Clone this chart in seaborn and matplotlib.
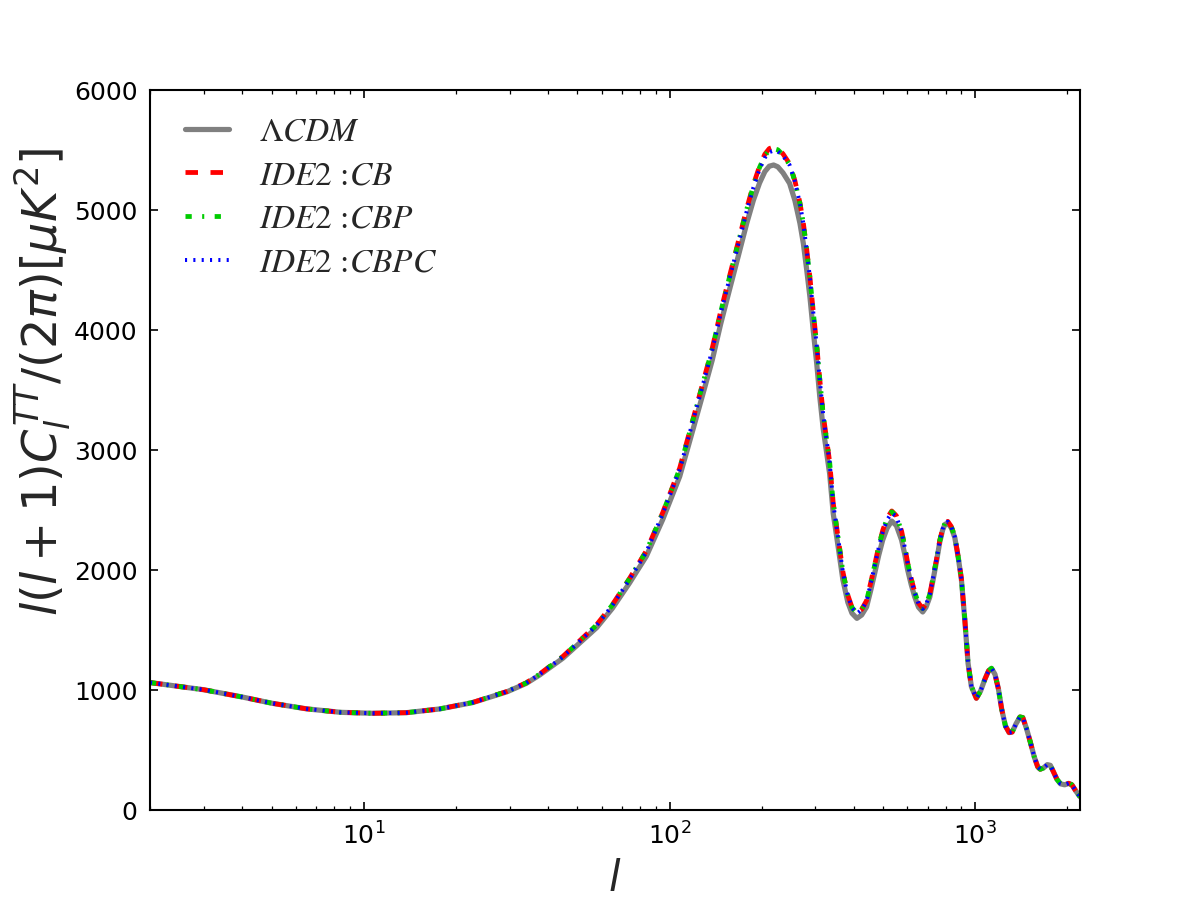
import matplotlib
matplotlib.use("Agg")
import matplotlib.pyplot as plt
from matplotlib.font_manager import FontProperties
import seaborn as sns

# multipoles and D_l = l(l+1)C_l/(2pi)
ell = [2, 3, 4, 5, 6.5, 8.4, 10.7, 13.8, 17.7, 22.7, 29.4, 34, 37.6, 44.8, 50, 57.8,
       65, 74, 84, 95, 108, 119, 130, 138, 147, 157, 168, 179, 188, 197, 205, 212,
       219, 226, 235, 247, 257, 267, 274, 281, 288, 295, 303, 310, 318, 334, 343, 356,
       369, 383, 395, 410, 425, 441, 455, 469, 483, 498, 515, 533, 552, 574, 588, 601,
       617, 634, 652, 673, 690, 710, 728, 748, 765, 782, 796, 813, 835, 857, 880, 901,
       924, 947, 971, 1008, 1040, 1075, 1105, 1130, 1160, 1190, 1220, 1255, 1290, 1320,
       1360, 1400, 1430, 1470, 1510, 1560, 1600, 1630, 1670, 1720, 1760, 1800, 1850,
       1900, 1960, 2020, 2070, 2130, 2200]

dl_lcdm = [1062, 1002, 942, 890, 843, 814, 806, 811, 842, 895, 985, 1055, 1125, 1265, 1375, 1520,
           1680, 1892, 2115, 2420, 2780, 3160, 3510, 3750, 4050, 4333, 4620, 4892, 5080, 5225, 5320, 5365,
           5375, 5360, 5310, 5222, 5080, 4889, 4720, 4500, 4270, 4000, 3720, 3444, 3181, 2800, 2472, 2194,
           1917, 1730, 1640, 1597, 1625, 1692, 1830, 1975, 2120, 2250, 2350, 2408, 2370, 2250, 2130, 2000,
           1880, 1775, 1690, 1650, 1690, 1775, 1920, 2083, 2230, 2333, 2380, 2392, 2350, 2270, 2100, 1917,
           1583, 1222, 1028, 931, 990, 1090, 1160, 1181, 1130, 1010, 840, 700, 645, 650,
           720, 775, 770, 680, 575, 440, 360, 340, 350, 378, 372, 320, 255,
           218, 210, 222, 210, 160, 110]

dl_cb = [1062, 1002, 942, 890, 843, 814, 806, 811, 842, 896, 988, 1060, 1133, 1280, 1393, 1545,
         1710, 1930, 2160, 2478, 2850, 3245, 3605, 3850, 4155, 4445, 4740, 5015, 5210, 5365, 5465, 5512,
         5525, 5512, 5468, 5385, 5245, 5060, 4890, 4670, 4435, 4160, 3875, 3590, 3300, 2900, 2560, 2270,
         1985, 1790, 1690, 1642, 1672, 1745, 1895, 2045, 2195, 2330, 2435, 2492, 2452, 2325, 2195, 2060,
         1930, 1815, 1725, 1680, 1715, 1800, 1940, 2100, 2245, 2345, 2392, 2405, 2362, 2280, 2105, 1925,
         1590, 1226, 1030, 931, 990, 1090, 1160, 1181, 1130, 1010, 840, 700, 645, 650,
         720, 775, 770, 680, 575, 440, 360, 340, 350, 378, 372, 320, 255,
         218, 210, 222, 210, 160, 110]

dl_cbp = [1062, 1002, 942, 890, 843, 814, 806, 811, 842, 896, 988, 1059, 1132, 1278, 1391, 1543,
          1708, 1928, 2157, 2475, 2845, 3240, 3600, 3845, 4150, 4438, 4732, 5008, 5200, 5355, 5452, 5500,
          5512, 5502, 5460, 5378, 5240, 5056, 4886, 4666, 4432, 4157, 3872, 3588, 3298, 2898, 2558, 2268,
          1983, 1788, 1688, 1640, 1670, 1743, 1892, 2042, 2190, 2325, 2430, 2485, 2450, 2322, 2193, 2058,
          1928, 1813, 1723, 1678, 1713, 1798, 1938, 2098, 2243, 2343, 2390, 2403, 2360, 2278, 2103, 1923,
          1589, 1225, 1030, 931, 990, 1090, 1160, 1181, 1130, 1010, 840, 700, 645, 650,
          720, 775, 770, 680, 575, 440, 360, 340, 350, 378, 372, 320, 255,
          218, 210, 222, 210, 160, 110]

dl_cbpc = [1062, 1002, 942, 890, 843, 814, 806, 811, 842, 896, 987, 1058, 1131, 1276, 1388, 1539,
           1704, 1922, 2151, 2468, 2837, 3231, 3589, 3834, 4138, 4425, 4718, 4994, 5186, 5340, 5435, 5482,
           5495, 5488, 5452, 5375, 5238, 5055, 4885, 4665, 4430, 4155, 3870, 3586, 3296, 2896, 2556, 2266,
           1981, 1786, 1686, 1638, 1668, 1740, 1888, 2036, 2183, 2316, 2420, 2475, 2445, 2318, 2190, 2055,
           1925, 1810, 1720, 1676, 1711, 1796, 1936, 2096, 2241, 2341, 2389, 2402, 2359, 2277, 2102, 1922,
           1588, 1225, 1029, 931, 990, 1090, 1160, 1181, 1130, 1010, 840, 700, 645, 650,
           720, 775, 770, 680, 575, 440, 360, 340, 350, 378, 372, 320, 255,
           218, 210, 222, 210, 160, 110]

labels = [r"$\Lambda CDM$", r"$IDE2$ :$CB$", r"$IDE2$ :$CBP$", r"$IDE2$ :$CBPC$"]
colors = ["#808080", "#ff0000", "#00cc00", "#0000ff"]

sns.set_style("ticks")
plt.rcParams["font.family"] = ["DejaVu Sans"]
plt.rcParams["lines.scale_dashes"] = False

fig, ax = plt.subplots(figsize=(8, 6), dpi=150)
fig.subplots_adjust(left=0.125, right=0.9, bottom=0.1, top=0.9)

line_styles = [
    dict(linestyle="-", lw=2.5),
    dict(linestyle=(0, (6, 6)), lw=2.3),
    dict(linestyle=(0, (3, 5, 1, 5)), lw=2.3),
    dict(linestyle=(0, (1, 3)), lw=1.9),
]

for vals, lab, col, st in zip([dl_lcdm, dl_cb, dl_cbp, dl_cbpc], labels, colors, line_styles):
    sns.lineplot(x=ell, y=vals, ax=ax, color=col, label=lab, **st)

ax.set_xscale("log")
ax.set_xlim(2, 2200)
ax.set_ylim(0, 6000)
ax.set_yticks(range(0, 7000, 1000))

ax.set_xlabel(r"$l$", fontsize=20)
ax.set_ylabel(r"$l(l+1)C_l^{TT}/(2\pi)[\mu K^2]$", fontsize=23, labelpad=0)
ax.yaxis.label.set_y(0.595)

ax.tick_params(which="both", direction="in", top=True, right=True, colors="black", labelsize=12)
ax.tick_params(which="major", length=4, width=0.8, pad=6)
ax.tick_params(which="minor", length=2, width=0.6)
for sp in ax.spines.values():
    sp.set_color("black")
    sp.set_linewidth(1.0)

ax.legend(loc="upper left", bbox_to_anchor=(0.011, 0.997), frameon=False,
          prop=FontProperties(family="STIXGeneral", size=16, math_fontfamily="stix"),
          handlelength=1.3, handletextpad=0.9, labelspacing=0.4,
          borderaxespad=0.35)

fig.savefig("out.png", dpi=150)
